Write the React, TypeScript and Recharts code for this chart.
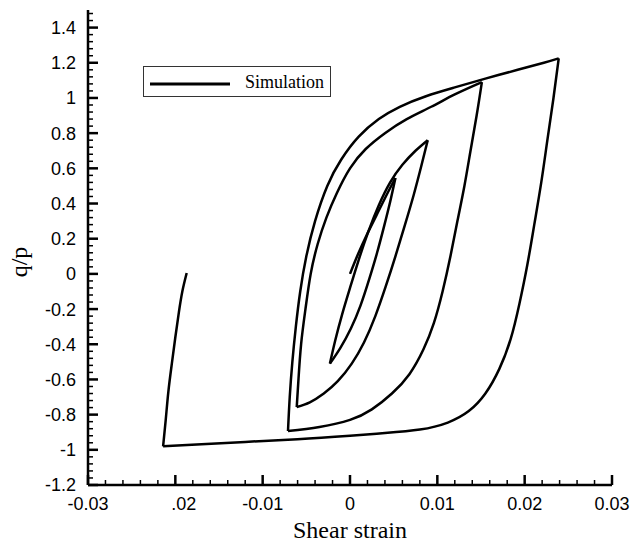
import { Legend, Line, LineChart, XAxis, YAxis } from 'recharts'

// shear strain / q/p pairs, one array per loading or unloading branch (each starts where the last ended)
const LOAD_1 = [[0, 0], [0.0009, 0.11], [0.0019, 0.22], [0.003, 0.33], [0.0041, 0.44], [0.0052, 0.545]]
const UNLOAD_1 = [[0.0052, 0.545], [0.0046, 0.41], [0.0039, 0.27], [0.0031, 0.12], [0.0022, -0.03], [0.0012, -0.18], [0.0001, -0.31], [-0.0011, -0.42], [-0.0023, -0.51]]
const LOAD_2 = [[-0.0023, -0.51], [-0.0017, -0.38], [-0.0009, -0.23], [0, -0.08], [0.001, 0.08], [0.0021, 0.24], [0.0033, 0.39], [0.0046, 0.52], [0.006, 0.62], [0.0075, 0.7], [0.0089, 0.76]]
const UNLOAD_2 = [[0.0089, 0.76], [0.0082, 0.62], [0.0073, 0.45], [0.0063, 0.28], [0.0052, 0.1], [0.0041, -0.07], [0.0029, -0.24], [0.0016, -0.39], [0.0002, -0.51], [-0.0014, -0.61], [-0.003, -0.68], [-0.0046, -0.73], [-0.0061, -0.757]]
const LOAD_3 = [[-0.0061, -0.757], [-0.0059, -0.6], [-0.0056, -0.4], [-0.0051, -0.2], [-0.0045, 0], [-0.0037, 0.17], [-0.0027, 0.32], [-0.0015, 0.46], [0, 0.6], [0.0018, 0.71], [0.004, 0.8], [0.0065, 0.88], [0.0093, 0.95], [0.012, 1.02], [0.0151, 1.09]]
const UNLOAD_3 = [[0.0151, 1.09], [0.0145, 0.9], [0.0138, 0.7], [0.0131, 0.5], [0.0123, 0.3], [0.0115, 0.1], [0.0106, -0.1], [0.0096, -0.28], [0.0084, -0.43], [0.0068, -0.57], [0.0048, -0.68], [0.0025, -0.77], [0, -0.83], [-0.0035, -0.87], [-0.0071, -0.893]]
const LOAD_4 = [[-0.0071, -0.893], [-0.0069, -0.7], [-0.0066, -0.5], [-0.0062, -0.3], [-0.0057, -0.1], [-0.005, 0.1], [-0.004, 0.3], [-0.0026, 0.5], [-0.001, 0.65], [0.001, 0.78], [0.0033, 0.88], [0.0057, 0.95], [0.0087, 1.01], [0.012, 1.06], [0.0155, 1.11], [0.0192, 1.16], [0.0222, 1.2], [0.0239, 1.225]]
const UNLOAD_4 = [[0.0239, 1.225], [0.0233, 1], [0.0226, 0.76], [0.0219, 0.52], [0.0211, 0.28], [0.0203, 0.05], [0.0194, -0.17], [0.0184, -0.37], [0.0171, -0.54], [0.0155, -0.68], [0.0136, -0.78], [0.0112, -0.845], [0.008, -0.885], [0.004, -0.905], [0, -0.92], [-0.006, -0.94], [-0.012, -0.955], [-0.017, -0.968], [-0.0214, -0.98]]
const LOAD_5 = [[-0.0214, -0.98], [-0.0211, -0.83], [-0.0208, -0.67], [-0.0204, -0.51], [-0.02, -0.36], [-0.0196, -0.22], [-0.0192, -0.1], [-0.0187, 0.005]]

const X_LABELS = ['-0.03', '.02', '-0.01', '0', '0.01', '0.02', '0.03']
const Y_LABELS = ['-1.2', '-1', '-0.8', '-0.6', '-0.4', '-0.2', '0', '0.2', '0.4', '0.6', '0.8', '1', '1.2', '1.4']

const BRANCHES = [LOAD_1, UNLOAD_1, LOAD_2, UNLOAD_2, LOAD_3, UNLOAD_3, LOAD_4, UNLOAD_4, LOAD_5].map((b) =>
	b.map(([x, y]) => ({ x, y })),
)

// minor ticks every 0.002 / 0.04, major every fifth
const X_TICKS = Array.from({ length: 31 }, (_, i) => Math.round((-0.03 + i * 0.002) * 1e4) / 1e4)
const Y_TICKS = Array.from({ length: 68 }, (_, i) => Math.round((-1.2 + i * 0.04) * 100) / 100)

const SANS = "'Liberation Sans', Arial, sans-serif"
const SERIF = "'Liberation Serif', 'Times New Roman', serif"

function XTick({ x, y, payload }: any) {
	const i = Math.round((payload.value + 0.03) / 0.002)
	const major = i % 5 === 0
	const label = major ? X_LABELS[i / 5] : null
	return (
		<g>
			<line x1={x} x2={x} y1={y} y2={y - (major ? 10 : 5)} stroke="#000" strokeWidth={major ? 2.5 : 1.5} />
			{label && (
				<text
					x={label === '.02' ? x + 21 : x}
					y={y + 25}
					textAnchor={label === '.02' ? 'end' : 'middle'}
					style={{ fontFamily: SANS, fontSize: 18 }}
					fill="#000"
				>
					{label}
				</text>
			)}
		</g>
	)
}

function YTick({ x, y, payload }: any) {
	const i = Math.round((payload.value + 1.2) / 0.04)
	const major = i % 5 === 0
	const label = major ? Y_LABELS[i / 5] : null
	return (
		<g>
			<line x1={x} x2={x + (major ? 10 : 5)} y1={y} y2={y} stroke="#000" strokeWidth={major ? 2.5 : 1.5} />
			{label && (
				<text x={x - 12} y={y} dy="0.36em" textAnchor="end" style={{ fontFamily: SANS, fontSize: 18 }} fill="#000">
					{label}
				</text>
			)}
		</g>
	)
}

function LegendBox() {
	return (
		<div
			style={{
				width: 188,
				height: 31,
				boxSizing: 'border-box',
				border: '1.5px solid #333',
				background: '#fff',
				display: 'flex',
				alignItems: 'center',
			}}
		>
			<svg width={92} height={28} style={{ display: 'block' }}>
				<line x1={6} x2={86} y1={16} y2={16} stroke="#000" strokeWidth={3} />
			</svg>
			<span style={{ fontFamily: SERIF, fontSize: 18, lineHeight: '28px', marginLeft: 9, color: '#000' }}>
				Simulation
			</span>
		</div>
	)
}

export default function App() {
	return (
		<div style={{ position: 'absolute', left: 0, top: 0, background: '#fff' }}>
			<LineChart width={643} height={545} margin={{ top: 10, right: 31, bottom: 0, left: 0 }}>
				<XAxis
					type="number"
					dataKey="x"
					domain={[-0.03, 0.03]}
					allowDataOverflow
					ticks={X_TICKS}
					interval={0}
					tickSize={0}
					tickMargin={0}
					tickLine={false}
					tick={<XTick />}
					axisLine={{ stroke: '#000', strokeWidth: 2.5 }}
					height={60}
					label={{
						value: 'Shear strain',
						position: 'insideBottom',
						offset: 7,
						style: { fontFamily: SERIF, fontSize: 24, fill: '#000' },
					}}
				/>
				<YAxis
					type="number"
					dataKey="y"
					domain={[-1.2, 1.5]}
					allowDataOverflow
					ticks={Y_TICKS}
					interval={0}
					tickSize={0}
					tickMargin={0}
					tickLine={false}
					tick={<YTick />}
					axisLine={{ stroke: '#000', strokeWidth: 2.5 }}
					width={88}
					label={{
						content: () => (
							<text
								x={27}
								y={262}
								transform="rotate(-90, 27, 262)"
								textAnchor="middle"
								style={{ fontFamily: SERIF, fontSize: 24 }}
								fill="#000"
							>
								q/p
							</text>
						),
					}}
				/>
				<Legend
					verticalAlign="middle"
					align="center"
					layout="horizontal"
					wrapperStyle={{ left: 143, top: 66, width: 188, height: 31 }}
					content={() => <LegendBox />}
				/>
				{BRANCHES.map((data, i) => (
					<Line
						key={i}
						data={data}
						type="natural"
						dataKey="y"
						stroke="#000"
						strokeWidth={2.5}
						dot={false}
						activeDot={false}
						isAnimationActive={false}
					/>
				))}
			</LineChart>
		</div>
	)
}
